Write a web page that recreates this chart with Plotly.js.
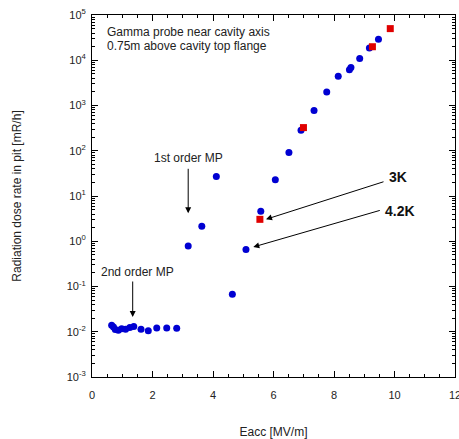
<!DOCTYPE html>
<html>
<head>
<meta charset="utf-8">
<script src="https://cdn.plot.ly/plotly-3.0.1.min.js"></script>
<style>html,body{margin:0;padding:0;background:#fff;}</style>
</head>
<body>
<div id="chart" style="width:459px;height:439px;"></div>
<script>
// 4.2K measurements (blue circles)
const eacc42 = [0.65, 0.71, 0.77, 0.87, 0.98, 1.11, 1.25, 1.38, 1.62, 1.86, 2.14, 2.47, 2.80,
                3.18, 3.63, 4.11, 4.64, 5.09, 5.58, 6.06, 6.51, 6.91, 7.34, 7.76, 8.14, 8.51, 8.56, 8.85, 9.17, 9.47];
const dose42 = [0.0139, 0.0128, 0.0112, 0.0108, 0.0117, 0.0114, 0.0124, 0.0131, 0.0113, 0.0105, 0.0121, 0.0121, 0.0120,
                0.79, 2.14, 27, 0.067, 0.66, 4.6, 23, 91, 283, 771, 1990, 4420, 6200, 6890, 10870, 18600, 29000];
// 3K measurements (red squares)
const eacc3 = [5.55, 6.99, 9.27, 9.86];
const dose3 = [3.05, 325, 19900, 50000];

const xTickVals = [0, 2, 4, 6, 8, 10, 12];
const xTickText = ['0', '2', '4', '6', '8', '10', '12'];
const yTickVals = [0.001, 0.01, 0.1, 1, 10, 100, 1000, 10000, 100000];
const yTickText = ['10<sup>-3</sup>', '10<sup>-2</sup>', '10<sup>-1</sup>', '10<sup>0</sup>', '10<sup>1</sup>',
                   '10<sup>2</sup>', '10<sup>3</sup>', '10<sup>4</sup>', '10<sup>5</sup>'];

const fam = 'Liberation Sans, Arial, sans-serif';
const font = {family: fam, size: 12, color: '#222'};

const traces = [
  {x: eacc42, y: dose42, type: 'scatter', mode: 'markers', name: '4.2K',
   marker: {symbol: 'circle', size: 7, color: '#0000d2'}},
  {x: eacc3, y: dose3, type: 'scatter', mode: 'markers', name: '3K',
   marker: {symbol: 'square', size: 7, color: '#e00000'}}
];

const layout = {
  width: 459, height: 439,
  margin: {l: 92, r: 4, t: 15, b: 62},
  showlegend: false,
  paper_bgcolor: '#fff', plot_bgcolor: '#fff',
  font: font,
  xaxis: {
    range: [0, 12], tickmode: 'array', tickvals: xTickVals, ticktext: xTickText,
    ticklabeloverflow: 'allow', ticklabelstandoff: 8,
    ticks: 'inside', ticklen: 6, tickcolor: '#000', tickwidth: 1,
    minor: {ticks: 'inside', ticklen: 3, dtick: 0.5, tickcolor: '#000', showgrid: false},
    showline: true, linecolor: '#000', linewidth: 1, mirror: 'allticks',
    showgrid: false, zeroline: false,
    tickfont: {family: fam, size: 11, color: '#222'},
    title: {text: 'Eacc [MV/m]', font: {family: fam, size: 12, color: '#222'}, standoff: 27}
  },
  yaxis: {
    type: 'log', range: [-3, 5], tickmode: 'array', tickvals: yTickVals, ticktext: yTickText,
    ticklabelstandoff: 3,
    ticks: 'inside', ticklen: 6, tickcolor: '#000', tickwidth: 1,
    minor: {ticks: 'inside', ticklen: 3, dtick: 'D1', tickcolor: '#000', showgrid: false},
    showline: true, linecolor: '#000', linewidth: 1, mirror: 'allticks',
    showgrid: false, zeroline: false,
    tickfont: {family: fam, size: 11, color: '#222'},
    title: {text: 'Radiation dose rate in pit [mR/h]', font: {family: fam, size: 12, color: '#222'}, standoff: 42}
  },
  annotations: [
    {xref: 'paper', yref: 'paper', x: 0.036, y: 0.952, xanchor: 'left', yanchor: 'middle', showarrow: false,
     text: 'Gamma probe near cavity axis', font: font},
    {xref: 'paper', yref: 'paper', x: 0.036, y: 0.915, xanchor: 'left', yanchor: 'middle', showarrow: false,
     text: '0.75m above cavity top flange', font: font},
    {xref: 'x', yref: 'y', x: 3.18, y: 1.833, showarrow: false, text: '1st order MP', font: font},
    {xref: 'x', yref: 'y', x: 3.18, y: 0.618, ax: 0, ay: -46, showarrow: true, text: '',
     arrowhead: 2, arrowsize: 1.2, arrowwidth: 1, arrowcolor: '#000'},
    {xref: 'x', yref: 'y', x: 1.52, y: -0.686, showarrow: false, text: '2nd order MP', font: font},
    {xref: 'x', yref: 'y', x: 1.345, y: -1.674, ax: 0, ay: -37, showarrow: true, text: '',
     arrowhead: 2, arrowsize: 1.2, arrowwidth: 1, arrowcolor: '#000'},
    {xref: 'x', yref: 'y', x: 10.12, y: 1.413, showarrow: false, text: '<b>3K</b>',
     font: {family: fam, size: 14, color: '#111'}},
    {xref: 'x', yref: 'y', x: 5.752, y: 0.485, ax: 119, ay: -38, showarrow: true, text: '',
     arrowhead: 2, arrowsize: 1.2, arrowwidth: 1, arrowcolor: '#000'},
    {xref: 'x', yref: 'y', x: 10.18, y: 0.662, showarrow: false, text: '<b>4.2K</b>',
     font: {family: fam, size: 14, color: '#111'}},
    {xref: 'x', yref: 'y', x: 5.332, y: -0.127, ax: 128, ay: -37, showarrow: true, text: '',
     arrowhead: 2, arrowsize: 1.2, arrowwidth: 1, arrowcolor: '#000'}
  ]
};

Plotly.newPlot('chart', traces, layout, {displayModeBar: false, staticPlot: true});
</script>
</body>
</html>
